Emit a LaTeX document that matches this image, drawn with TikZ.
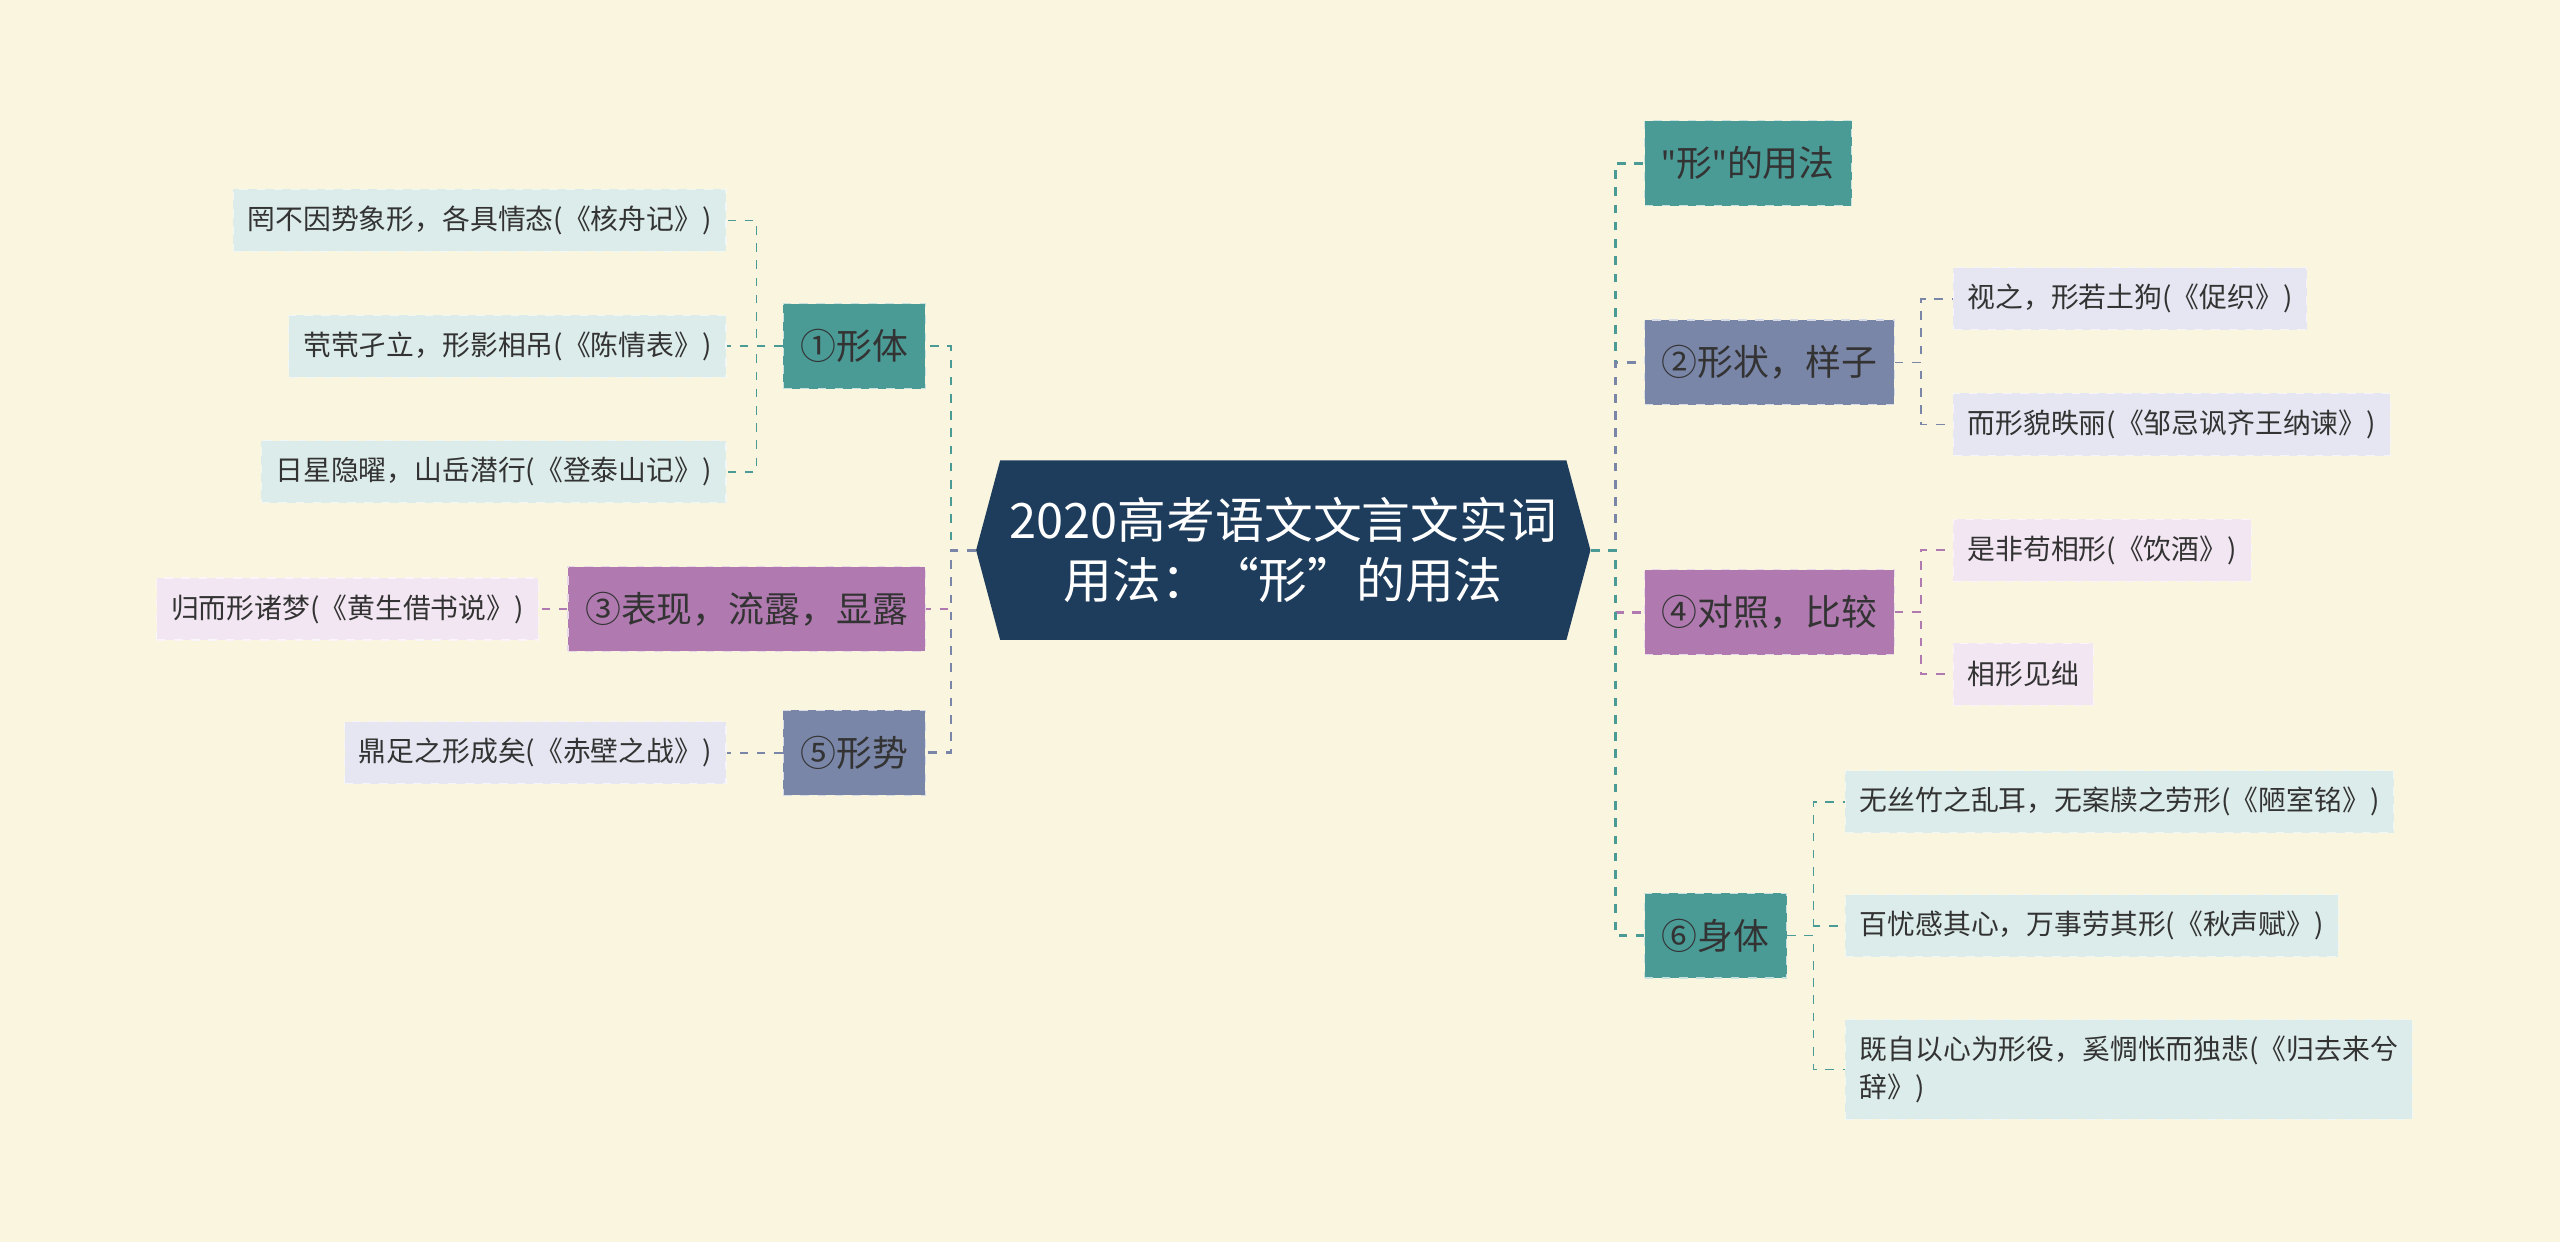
\documentclass[tikz,border=0pt]{standalone}
\usepackage{fontspec}
\setmainfont{Noto Sans CJK SC}
\newfontfamily\latinq{Noto Sans}
\usetikzlibrary{shapes.symbols, positioning}
\definecolor{bg}{HTML}{F9F5DE}
\definecolor{rootc}{HTML}{1E3D5C}
\definecolor{tealc}{HTML}{4A9A96}
\definecolor{slatec}{HTML}{7A86A8}
\definecolor{purpc}{HTML}{B07AB0}
\definecolor{ltteal}{HTML}{DCECEA}
\definecolor{ltlav}{HTML}{E6E6F2}
\definecolor{ltpink}{HTML}{F2E6F2}
\definecolor{txt}{HTML}{333333}
\begin{document}
\begin{tikzpicture}[x=0.02cm, y=-0.02cm]
    % Styles
    \tikzset{
        root/.style={signal, signal to=west and east, signal pointer angle=150, fill=rootc,
            text=white, font=\fontsize{17}{21}\selectfont, align=center,
            minimum width=7.5cm, minimum height=2.2cm},
        branch/.style={fill=#1, draw=white!70!#1, dashed, text=txt,
            font=\fontsize{12.5}{15}\selectfont, minimum height=1.04cm, inner xsep=6pt},
        leaf/.style={fill=#1, draw=white!60!#1, dashed, text=txt,
            font=\fontsize{9.7}{13.5}\selectfont, minimum height=0.76cm, inner xsep=5pt, align=left},
        link/.style={dashed, line width=0.9pt, draw=#1}
    }
    \fill[bg] (0,0) rectangle (1568,761);

    % Nodes
    \node[root] (root) at (786,337) {2020高考语文文言文实词\\用法：“形”的用法};

    \node[branch=tealc, anchor=west] (b1) at (1007,100) {{\latinq\symbol{34}}形{\latinq\symbol{34}}的用法};
    \node[branch=slatec, anchor=west] (b2) at (1007,222) {②形状，样子};
    \node[branch=purpc, anchor=west] (b4) at (1007,375) {④对照，比较};
    \node[branch=tealc, anchor=west] (b6) at (1007,573) {⑥身体};

    \node[leaf=ltlav, anchor=west] (l21) at (1196,183) {视之，形若土狗(《促织》)};
    \node[leaf=ltlav, anchor=west] (l22) at (1196,260) {而形貌昳丽(《邹忌讽齐王纳谏》)};
    \node[leaf=ltpink, anchor=west] (l41) at (1196,337) {是非苟相形(《饮酒》)};
    \node[leaf=ltpink, anchor=west] (l42) at (1196,413) {相形见绌};
    \node[leaf=ltteal, anchor=west] (l61) at (1130,491) {无丝竹之乱耳，无案牍之劳形(《陋室铭》)};
    \node[leaf=ltteal, anchor=west] (l62) at (1130,567) {百忧感其心，万事劳其形(《秋声赋》)};
    \node[leaf=ltteal, anchor=west, minimum height=1.22cm] (l63) at (1130,655) {既自以心为形役，奚惆怅而独悲(《归去来兮\\辞》)};

    \node[branch=tealc, anchor=east] (a1) at (567,212) {①形体};
    \node[branch=purpc, anchor=east] (a3) at (567,373) {③表现，流露，显露};
    \node[branch=slatec, anchor=east] (a5) at (567,461) {⑤形势};

    \node[leaf=ltteal, anchor=east] (k11) at (445,135) {罔不因势象形，各具情态(《核舟记》)};
    \node[leaf=ltteal, anchor=east] (k12) at (445,212) {茕茕孑立，形影相吊(《陈情表》)};
    \node[leaf=ltteal, anchor=east] (k13) at (445,289) {日星隐曜，山岳潜行(《登泰山记》)};
    \node[leaf=ltpink, anchor=east] (k31) at (330,373) {归而形诸梦(《黄生借书说》)};
    \node[leaf=ltlav, anchor=east] (k51) at (445,461) {鼎足之形成矣(《赤壁之战》)};

    % Connections
    \foreach \b/\c in {b1/tealc, b2/slatec, b4/purpc, b6/tealc}
        \draw[link=\c] (root.east) -- ++(15,0) |- (\b.west);
    \foreach \b/\c in {a1/tealc, a3/purpc, a5/slatec}
        \draw[link=\c] (root.west) -- ++(-15,0) |- (\b.east);
    \foreach \l in {l21, l22}
        \draw[link=slatec, line width=0.6pt] (b2.east) -- ++(16,0) |- (\l.west);
    \foreach \l in {l41, l42}
        \draw[link=purpc, line width=0.6pt] (b4.east) -- ++(16,0) |- (\l.west);
    \foreach \l in {l61, l62, l63}
        \draw[link=tealc, line width=0.6pt] (b6.east) -- ++(16,0) |- (\l.west);
    \foreach \l in {k11, k12, k13}
        \draw[link=tealc, line width=0.6pt] (a1.west) -- ++(-16,0) |- (\l.east);
    \draw[link=purpc, line width=0.6pt] (a3.west) -- (k31.east);
    \draw[link=slatec, line width=0.6pt] (a5.west) -- (k51.east);
\end{tikzpicture}
\end{document}
